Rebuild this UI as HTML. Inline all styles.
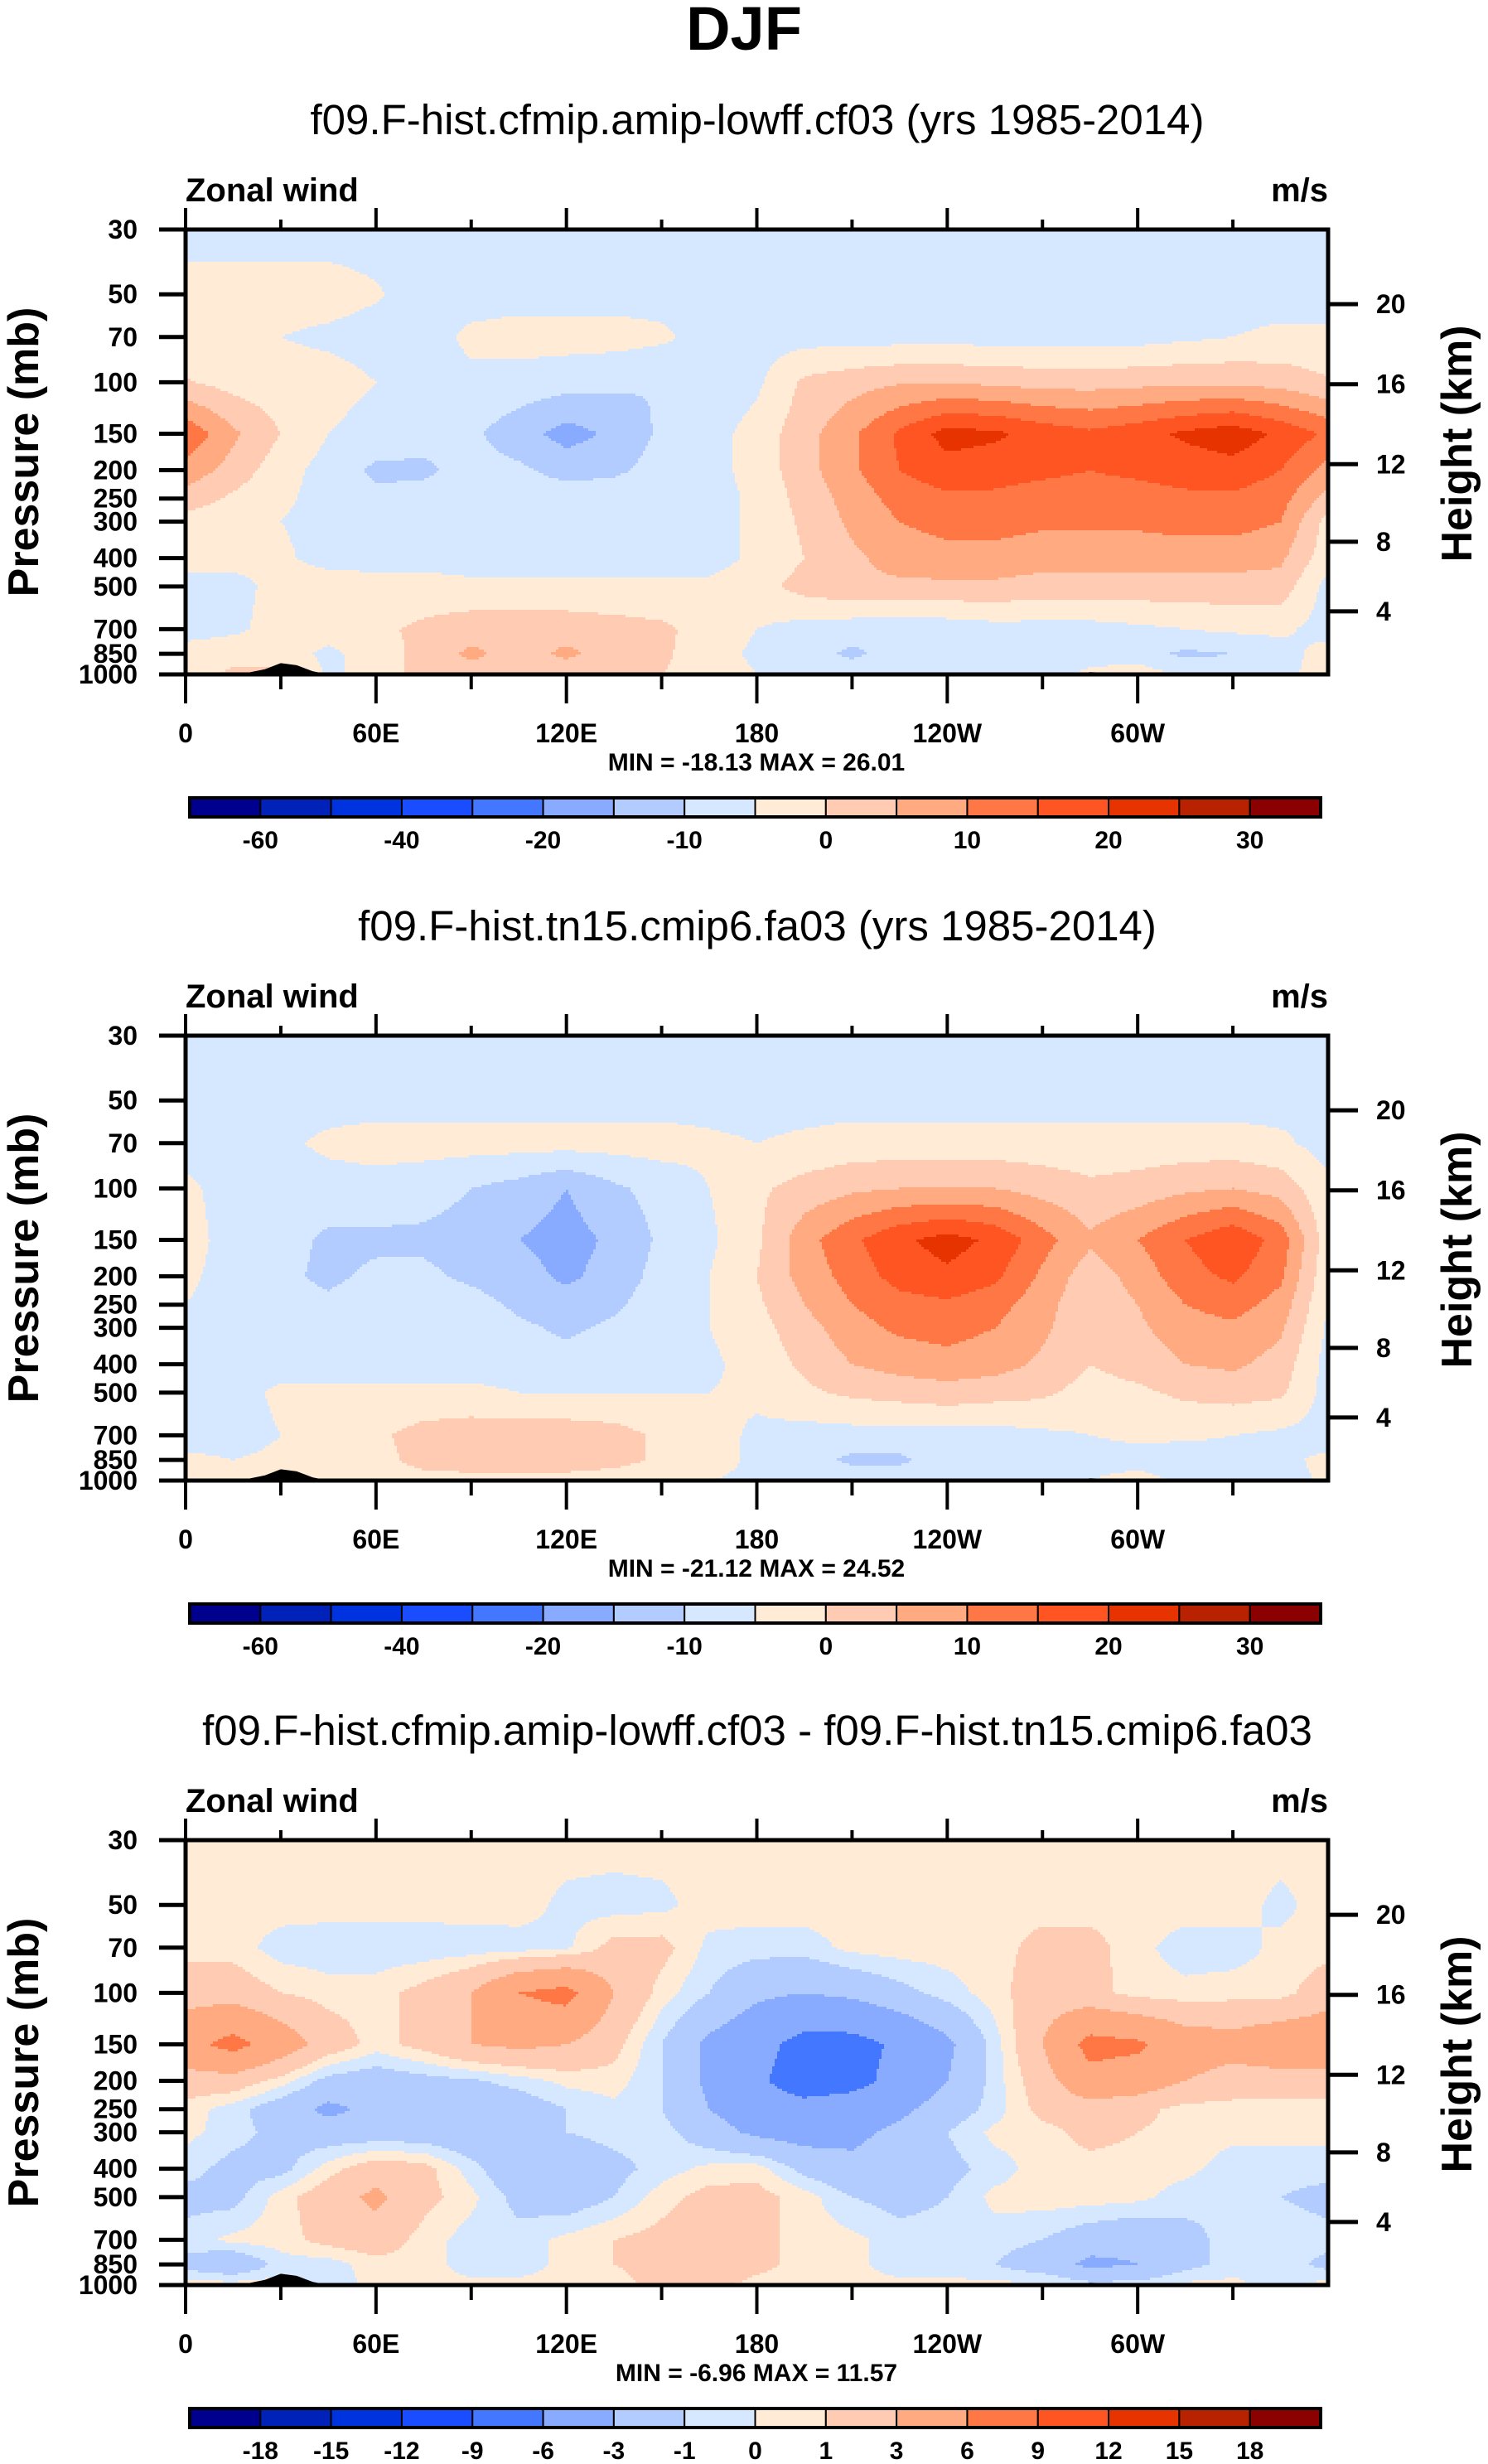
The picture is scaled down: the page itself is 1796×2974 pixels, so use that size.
<!DOCTYPE html>
<html><head><meta charset="utf-8"><title>DJF Zonal wind</title>
<style>
html,body{margin:0;padding:0;background:#fff;}
svg{display:block;font-family:"Liberation Sans",sans-serif;}
</style></head>
<body>
<svg id="fig" width="1796" height="2974" viewBox="0 0 1796 2974" xmlns="http://www.w3.org/2000/svg">
<text x="898" y="60" text-anchor="middle" font-size="74" font-weight="bold">DJF</text>
</svg>
<script>
// ---- data ----
const lons = [0,15,30,45,60,75,90,105,120,135,150,165,180,195,210,225,240,255,270,285,300,315,330,345,360];
const levels = [30,50,70,100,150,200,250,300,400,500,700,850,1000];
const xTickLabels = ["0","60E","120E","180","120W","60W"];
const xTickLons = [0,60,120,180,240,300];
const heightTicks = [4,8,12,16,20];
const boundsAbs = [-60,-50,-40,-30,-20,-15,-10,-5,0,5,10,15,20,25,30];
const boundsDiff = [-18,-15,-12,-9,-6,-3,-1,0,1,3,6,9,12,15,18];
const cbLabelsAbs = ["","-60","","-40","","-20","","-10","","0","","10","","20","","30"];
const cbLabelsDiff = ["","-18","-15","-12","-9","-6","-3","-1","0","1","3","6","9","12","15","18"];
const topoLons = [0,5,10,15,20,25,30,35,40,45,50,85,90,95,120,125,155,160,165,280,285,290,295,300,305,310,315,360];
const topoP =    [1000,1000,995,985,985,960,915,930,975,1000,1000,1000,995,1000,1000,995,1000,995,1000,1000,982,986,990,994,990,985,1000,1000];

const field1 = [
[-7,-7,-7,-7,-7,-7,-7,-7,-7,-7,-7,-7,-7,-7,-7,-7,-7,-7,-7,-7,-7,-7,-7,-7,-7],
[-3,-3,-3,-3,-4.5,-7,-7,-7,-7,-7,-7,-7,-7,-7,-7,-7,-7,-7,-7,-7,-7,-7,-7,-7,-7],
[-4,-4,-5,-6,-7,-7,-4,-3,-3,-3,-4,-7,-7,-7,-7,-7,-7,-7,-7,-7,-7,-6,-5,-4,-4],
[0.5,-2,-3,-3,-5,-7,-6,-7,-8,-9,-10,-9,-6,1,3,4.5,4.5,4,3,3,3.5,4,4,3,0.5],
[14,6,0,-5,-7,-8,-9,-13,-17,-14,-9,-7,-3,3,9,16,22,21,18,16,18,21,23,19,14],
[8,3,-3,-7,-11,-11,-8,-9,-12,-11,-8,-7,-3,3,9,15,18,17,16,15,16,17,18,15,8],
[3,-1,-4,-7,-9,-8,-7,-7,-7,-7,-7,-7,-4,2,7,12,14,14,13,13,13,14,14,12,3],
[-2,-4,-5,-7,-7,-7,-7,-7,-7,-7,-7,-7,-4,1,6,10,12,12,11,11,11,12,12,10,-2],
[-3,-3,-4,-7,-7,-7,-7,-7,-7,-7,-7,-7,-4,0,4,7,8,8,7,7,7,7,7,6,-3],
[-7,-7,-3,-2,-3,-3,-4,-4,-4,-4,-4,-4,-2,2,4,4,4,4,3,3,3,3,3,3,-7],
[-7,-6,-3,-3,-1,1,3,3,3,2,1,-2,-5,-7,-8,-9,-8,-7,-7,-7,-6,-5,-4,-4,-7],
[-3,-2,-3,-6,-3,2,6,3,6,3,1,-3,-6,-8,-11,-8,-7,-7,-7,-7,-8,-11,-10,-7,-3],
[-2,1,2,-6,-3,2,3,3,2,1,0,-2,-5,-7,-7,-7,-7,-7,-7,-4,-2,-6,-7,-7,-2]
];
const field2 = [
[-7,-7,-7,-7,-7,-7,-7,-7,-7,-7,-7,-7,-7,-7,-7,-7,-7,-7,-7,-7,-7,-7,-7,-7,-7],
[-5,-6,-7,-7,-7,-7,-7,-7,-7,-7,-7,-7,-7,-7,-7,-7,-7,-7,-7,-7,-7,-7,-7,-7,-5],
[-7,-7,-6,-4,-3,-3,-3,-3,-3,-3,-3,-4,-5,-4,-3,-3,-3,-3,-3,-3,-3,-3,-3,-4,-7],
[-4,-7,-7,-7,-7,-8,-10,-12,-15,-11,-8,-5,-1,2,4,5,5,5,3,1,2,4,5,3,-4],
[-3,-7,-8,-11,-11,-11,-12,-15,-17,-14,-9,-6,-1,8,14,19,22,19,12,6,10,15,19,13,-3],
[-4,-7,-9,-11,-9,-9,-11,-13,-16,-13,-8,-5,0,7,12,17,19,16,9,2,7,13,16,11,-4],
[-5,-7,-8,-9,-7,-7,-8,-11,-13,-11,-7,-5,-1,5,10,13,14,12,7,1,5,10,12,8,-5],
[-6,-7,-7,-7,-7,-7,-7,-9,-11,-9,-7,-5,-2,3,8,11,12,10,6,1,4,8,9,6,-6],
[-7,-7,-7,-7,-7,-7,-7,-7,-8,-7,-7,-6,-3,1,5,7,8,7,4,0,2,5,6,3,-7],
[-7,-7,-4,-4,-4,-4,-4,-5,-5,-5,-5,-5,-4,-1,1,2,3,2,1,-2,-1,1,2,1,-7],
[-7,-7,-5,-3,-1,2,3,3,3,2,-1,-3,-6,-7,-7,-7,-7,-7,-6,-5,-4,-4,-5,-6,-7],
[-4,-5,-4,-3,-2,2,3,3,3,2,-1,-3,-6,-8,-11,-11,-7,-7,-7,-7,-7,-8,-7,-6,-4],
[-4,-3,-2,-4,-3,-2,-2,-2,-2,-3,-4,-5,-6,-7,-7,-7,-7,-7,-7,-5,-3,-6,-7,-7,-4]
];
const field3 = [
[0.5,0.5,0.5,0.5,0.5,0.5,0.5,0.5,0.5,0.5,0.5,0.5,0.5,0.5,0.5,0.5,0.5,0.5,0.5,0.5,0.5,0.5,0.5,0.5,0.5],
[0.5,0.5,0.5,0.5,0.5,0.5,0.5,0.5,-0.3,-0.5,-0.3,0.5,0.5,0.5,0.5,0.5,0.5,0.5,0.5,0.5,0.5,0.5,0.5,-0.3,0.5],
[0.5,0.5,-0.5,-0.7,-0.7,-0.7,-0.6,-0.5,-0.2,1.5,1.5,-0.3,-0.5,-0.5,0.3,0.5,0.5,0.5,1.5,1.5,0.3,-0.5,-0.5,0.3,0.5],
[2,2,1,0.5,0.5,1.5,3,6,7,3,0.5,-1,-2.5,-3,-2.5,-1.5,-0.5,0.5,2,1.5,0.5,0.3,0.5,0.5,2],
[5,7,4.5,2,0.5,1.5,3,3.5,3,1.5,-1,-3.5,-5,-7,-7,-5.5,-3.5,-0.5,3,7,6.5,4.5,4,5,5],
[2,2,0.5,-1.5,-2,-1.5,-1.2,-0.5,0.3,0.5,-1,-3.5,-5.5,-7.5,-7,-5,-3,-0.5,2,5,4.5,3,2,2,2],
[0.5,-0.5,-2,-3.5,-2.5,-2,-2.5,-2,-1,-0.3,-1,-3,-4.5,-5,-4.5,-3.5,-2,-0.5,1.5,2,1.5,0.5,0.5,0.5,0.5],
[0.3,-0.5,-1.5,-2,-2,-2,-2.5,-2,-1,-0.5,-0.5,-2,-3.5,-4,-3.5,-2.5,-1,0.3,0.5,1.5,1,0.5,0.3,0.3,0.3],
[-0.5,-1.5,-1.5,0.5,2,1.5,-0.5,-2.5,-2.5,-1.5,-0.5,0.3,0.5,-1.5,-2.5,-2,-1.5,-0.5,0.5,0.5,0.5,0.3,-0.5,-0.5,-0.5],
[-1.5,-1.5,0.5,2,3.5,1.5,0.3,-1.5,-2,-1,0.5,1.5,1.5,0.5,-1,-1.5,-1,0.3,0.5,0.5,0.3,-0.5,-1,-1,-1.5],
[-0.5,0.3,0.5,1.5,2,0.5,-0.5,-0.5,0.3,1,1.5,2,1.5,0.5,0.3,-0.5,-0.5,-0.5,-1,-2,-2.5,-1.5,-0.5,-0.3,-0.5],
[-1.5,-2.5,-0.5,-0.5,0.5,0.5,-0.5,-0.5,0.3,1,1.5,2.5,1.5,0.5,0.3,-0.5,-0.5,-1,-2,-3.5,-3,-1.5,-0.5,-0.3,-1.5],
[0.5,0.5,0.5,-0.5,0.3,0.3,0.3,0.3,0.3,0.5,1.5,1.5,0.5,0.3,0.3,0.3,0.3,0.3,0.3,-0.5,-0.5,0.3,0.3,-0.5,0.5]
];
const subtitles = ["f09.F-hist.cfmip.amip-lowff.cf03 (yrs 1985-2014)","f09.F-hist.tn15.cmip6.fa03 (yrs 1985-2014)","f09.F-hist.cfmip.amip-lowff.cf03 - f09.F-hist.tn15.cmip6.fa03"];
const minmax = ["MIN = -18.13  MAX =  26.01","MIN = -21.12  MAX =  24.52","MIN = -6.96  MAX = 11.57"];

const colors = ['#00008f','#0022b8','#0033e0','#1a4dff','#4477ff','#88aaff','#b3ccff','#d6e8ff','#ffebd6','#ffccb3','#ffaa80','#ff7744','#ff5522','#e63300','#b82200','#8b0000'];

const NS="http://www.w3.org/2000/svg";
const svg=document.getElementById('fig');
function mk(tag,attrs,parent){const e=document.createElementNS(NS,tag);for(const k in attrs)e.setAttribute(k,attrs[k]);(parent||svg).appendChild(e);return e;}

const X0=224,X1=1603,W=X1-X0,H=537;
const LP0=Math.log(30),LP1=Math.log(1000);
function xOf(lon){return X0+lon/360*W;}
function yOf(p,top){return top+(Math.log(p)-LP0)/(LP1-LP0)*H;}
function pOfZ(z){const m=z*1000;return m<11000?1013.25*Math.pow(1-2.25577e-5*m,5.25588):226.32*Math.exp(-(m-11000)/6341.6);}
function cls(v,b){let i=0;while(i<b.length&&v>=b[i])i++;return i;}
function sample(f,lon,p){
  let c=lon/15;let ci=Math.min(Math.floor(c),lons.length-2);let tc=c-ci;
  let lp=Math.log(p);let k=0;while(k<levels.length-2&&p>levels[k+1])k++;
  let tl=(lp-Math.log(levels[k]))/(Math.log(levels[k+1])-Math.log(levels[k]));
  tl=Math.max(0,Math.min(1,tl));
  const a=f[k][ci],b=f[k][ci+1],cc=f[k+1][ci],d=f[k+1][ci+1];
  return (a*(1-tc)+b*tc)*(1-tl)+(cc*(1-tc)+d*tc)*tl;
}

function panel(idx,top,field,bounds,cbLabels){
  const g=mk('g',{});
  
  
  const st=mk('text',{x:914,y:top-115,'text-anchor':'middle','font-size':51},g);
  st.textContent=subtitles[idx];
  
  
  const zl=mk('text',{x:X0,y:top-34,'font-size':40,'font-weight':'bold'},g);
  zl.textContent='Zonal wind';
  
  
  const ul=mk('text',{x:X1,y:top-34,'text-anchor':'end','font-size':40,'font-weight':'bold'},g);
  ul.textContent='m/s';
  
  
  // field
  const fg=mk('g',{'shape-rendering':'crispEdges'},g);
  
  
  const dx=3,dy=3;
  function flush(start,end,c,y){
    if(c<0||end<=start)return;
    const r=mk('rect',{x:X0+start,y:top+y,width:end-start+0.6,height:Math.min(dy,H-y)+0.6,fill:colors[c]},fg);
    
    
  }
  for(let y=0;y<H;y+=dy){
    const p=Math.exp(LP0+Math.min(y+dy/2,H)/H*(LP1-LP0));
    let runStart=0,runC=-1;
    for(let x=0;x<W;x+=dx){
      const lon=Math.min((x+dx/2)/W*360,359.99);
      const c=cls(sample(field,lon,p),bounds);
      if(c!==runC){flush(runStart,x,runC,y);runStart=x;runC=c;}
    }
    flush(runStart,W,runC,y);
  }
  // topography
  let pts=topoLons.map((l,i)=>xOf(l)+','+yOf(topoP[i],top)).join(' ');
  pts+=' '+xOf(360)+','+(top+H)+' '+xOf(0)+','+(top+H);
  const tp=mk('polygon',{points:pts,fill:'#000'},g);
  
  
  // frame
  const fr=mk('rect',{x:X0,y:top,width:W,height:H,fill:'none',stroke:'#000','stroke-width':5},g);
  
  
  // left axis
  levels.forEach(p=>{
    const y=yOf(p,top);
    const t=mk('line',{x1:X0-32,x2:X0,y1:y,y2:y,stroke:'#000','stroke-width':5},g);
    
    
    const lb=mk('text',{x:X0-58,y:y+11,'text-anchor':'end','font-size':32,'font-weight':'bold'},g);
    lb.textContent=p;
    
    
  });
  const yt=mk('text',{transform:'translate(46,'+(top+H/2)+') rotate(-90)','text-anchor':'middle','font-size':52,'font-weight':'bold'},g);
  yt.textContent='Pressure (mb)';
  
  
  // right axis
  heightTicks.forEach(z=>{
    const y=yOf(pOfZ(z)*1000/1013.25,top);
    const t=mk('line',{x1:X1,x2:X1+36,y1:y,y2:y,stroke:'#000','stroke-width':5},g);
    
    
    const lb=mk('text',{x:X1+58,y:y+11,'font-size':32,'font-weight':'bold'},g);
    lb.textContent=z;
    
    
  });
  const ht=mk('text',{transform:'translate(1776,'+(top+H/2-10)+') rotate(-90)','text-anchor':'middle','font-size':52,'font-weight':'bold'},g);
  ht.textContent='Height (km)';
  
  
  // x ticks
  for(let l=0;l<=330;l+=30){
    const major=l%60===0;const x=xOf(l);
    const t=mk('line',{x1:x,x2:x,y1:top+H,y2:top+H+(major?35:18),stroke:'#000','stroke-width':4},g);
    
    
    const t2=mk('line',{x1:x,x2:x,y1:top,y2:top-(major?26:12),stroke:'#000','stroke-width':4},g);
    
    
  }
  xTickLons.forEach((l,i)=>{
    const lb=mk('text',{x:xOf(l),y:top+H+82,'text-anchor':'middle','font-size':32,'font-weight':'bold'},g);
    lb.textContent=xTickLabels[i];
    
    
  });
  const mm=mk('text',{x:913,y:top+H+116,'text-anchor':'middle','font-size':30,'font-weight':'bold'},g);
  mm.textContent=minmax[idx];
  
  
  // colorbar
  const cy=top+H+149,cw=(1594-229)/16;
  for(let i=0;i<16;i++){
    const r=mk('rect',{x:229+i*cw,y:cy,width:cw,height:23,fill:colors[i],stroke:'#000','stroke-width':2},g);
    
    
    if(cbLabels[i]){
      const lb=mk('text',{x:229+i*cw,y:cy+61,'text-anchor':'middle','font-size':30,'font-weight':'bold'},g);
      lb.textContent=cbLabels[i];
      
      
    }
  }
  const cbf=mk('rect',{x:229,y:cy,width:1365,height:23,fill:'none',stroke:'#000','stroke-width':4},g);
  
  
}
panel(0,277,field1,boundsAbs,cbLabelsAbs);
panel(1,1250,field2,boundsAbs,cbLabelsAbs);
panel(2,2221,field3,boundsDiff,cbLabelsDiff);
</script>
</body></html>
